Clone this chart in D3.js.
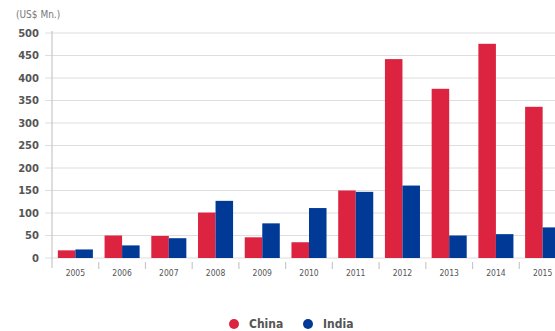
<!DOCTYPE html>
<html><head><meta charset="utf-8">
<script src="https://cdn.jsdelivr.net/npm/d3@7"></script>
<style>body{margin:0;background:#fff;overflow:hidden}</style>
</head><body><svg id="c" width="555" height="331"></svg>
<script>
const categories = ["2005","2006","2007","2008","2009","2010","2011","2012","2013","2014","2015"];
const china = [17, 50, 49, 101, 46, 35, 150, 442, 376, 476, 336];
const india = [19, 28, 44, 127, 77, 111, 147, 161, 50, 53, 68];
const yTicks = [0,50,100,150,200,250,300,350,400,450,500];
const seriesNames = ["China","India"];
const colors = ["#dc2340","#003a96"];

const svg = d3.select("#c");
const x0 = 52, x1 = 566, yBase = 258, yTop = 33;
const x = d3.scaleBand().domain(categories).range([x0, x1]).paddingInner(0.25).paddingOuter(0.125);
const xs = d3.scaleBand().domain(seriesNames).range([0, x.bandwidth()]);
const y = d3.scaleLinear().domain([0, 500]).range([yBase, yTop]);

// gridlines
svg.append("g").selectAll("line").data(yTicks).join("line")
  .attr("x1", 45).attr("x2", 555).attr("y1", d => y(d)).attr("y2", d => y(d))
  .attr("stroke", "#dedede").attr("stroke-width", 1);

// y labels
svg.append("g").selectAll("text").data(yTicks).join("text")
  .attr("x", 39).attr("y", d => y(d)).attr("dy", "0.35em").attr("text-anchor", "end")
  .attr("font-family", "DejaVu Sans").attr("font-weight", "bold").attr("font-size", 10)
  .attr("fill", "#555").text(d => d);

svg.append("text").attr("x", 16).attr("y", 18).attr("font-family", "DejaVu Sans Condensed")
  .attr("font-size", 10).attr("fill", "#777").text("(US$ Mn.)");

// bars
const data = categories.map((c, i) => ({c, vals: [china[i], india[i]]}));
const g = svg.append("g").selectAll("g").data(data).join("g")
  .attr("transform", d => `translate(${x(d.c)},0)`);
g.selectAll("rect").data(d => d.vals.map((v, j) => ({v, s: seriesNames[j], j}))).join("rect")
  .attr("x", d => xs(d.s)).attr("width", xs.bandwidth())
  .attr("y", d => y(d.v)).attr("height", d => yBase - y(d.v))
  .attr("fill", d => colors[d.j]);

// y axis line
svg.append("line").attr("x1", x0).attr("x2", x0).attr("y1", 31).attr("y2", 268)
  .attr("stroke", "#c8c8c8").attr("stroke-width", 1.2);

// x separators
const seps = categories.slice(1).map(c => x(c) - x.step() * x.paddingInner() / 2);
svg.append("g").selectAll("line").data(seps).join("line")
  .attr("x1", d => d).attr("x2", d => d).attr("y1", 262).attr("y2", 269)
  .attr("stroke", "#c8c8c8").attr("stroke-width", 1.2);

// x labels
svg.append("g").selectAll("text").data(categories).join("text")
  .attr("x", d => x(d) + x.bandwidth() / 2).attr("y", 276).attr("text-anchor", "middle")
  .attr("font-family", "DejaVu Sans Condensed").attr("font-size", 8.5)
  .attr("fill", "#555").text(d => d);

// legend
const leg = svg.append("g").selectAll("g").data(seriesNames).join("g")
  .attr("transform", (d, i) => `translate(${234 + i * 74},324)`);
leg.append("circle").attr("r", 5).attr("fill", (d, i) => colors[i]);
leg.append("text").attr("x", 15).attr("dy", "0.35em")
  .attr("font-family", "DejaVu Sans Condensed").attr("font-weight", "bold").attr("font-size", 12)
  .attr("fill", "#555").text(d => d);
</script></body></html>
